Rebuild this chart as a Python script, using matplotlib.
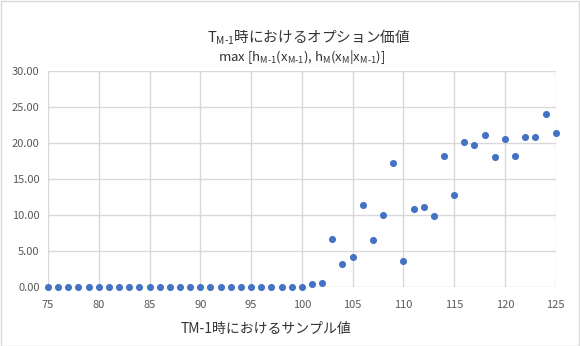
import matplotlib
matplotlib.use("Agg")
import matplotlib.pyplot as plt
from matplotlib.patches import Rectangle

plt.rcParams['font.family'] = ['Noto Sans CJK JP', 'DejaVu Sans']
plt.rcParams['mathtext.fontset'] = 'custom'
plt.rcParams['mathtext.rm'] = 'Noto Sans CJK JP'
plt.rcParams['mathtext.it'] = 'Noto Sans CJK JP'
plt.rcParams['mathtext.bf'] = 'Noto Sans CJK JP'
plt.rcParams['mathtext.sf'] = 'Noto Sans CJK JP'
plt.rcParams['mathtext.default'] = 'regular'

# ---- data ----
sample_values = [75, 76, 77, 78, 79, 80, 81, 82, 83, 84, 85, 86, 87, 88, 89, 90,
                 91, 92, 93, 94, 95, 96, 97, 98, 99, 100, 101, 102, 103, 104, 105,
                 106, 107, 108, 109, 110, 111, 112, 113, 114, 115, 116, 117, 118,
                 119, 120, 121, 122, 123, 124, 125]
option_values = [0.00, 0.00, 0.00, 0.00, 0.00, 0.00, 0.00, 0.00, 0.00, 0.00,
                 0.00, 0.00, 0.00, 0.00, 0.00, 0.00, 0.00, 0.00, 0.00, 0.00,
                 0.00, 0.00, 0.00, 0.00, 0.00, 0.00,
                 0.42, 0.65, 6.74, 3.28, 4.16, 11.40, 6.56, 10.02, 17.22, 3.69,
                 10.90, 11.08, 9.83, 18.19, 12.83, 20.13, 19.76, 21.10, 18.10,
                 20.54, 18.24, 20.91, 20.82, 24.10, 21.47]
x_ticks = [75, 80, 85, 90, 95, 100, 105, 110, 115, 120, 125]
y_ticks = [0, 5, 10, 15, 20, 25, 30]
title_line1 = r"T$_{\text{M-1}}$時におけるオプション価値"
title_line2 = (r"max [h$_{\text{M-1}}$(x$_{\text{M-1}}$), "
               r"h$_{\text{M}}$(x$_{\text{M}}$|x$_{\text{M-1}}$)]")
x_label = "TM-1時におけるサンプル値"

W, H, DPI = 580, 346, 100
fig = plt.figure(figsize=(W / DPI, H / DPI), dpi=DPI)
fig.patch.set_facecolor("white")
fig.patches.append(Rectangle((0.5 / W, 0.5 / H), 1 - 1.5 / W, 1 - 1.5 / H,
                             transform=fig.transFigure, fill=False,
                             edgecolor="#d9d9d9", linewidth=1.0))

ax = fig.add_axes([48 / W, 1 - 287.3 / H, (555.7 - 48) / W, (287.3 - 71) / H])
ax.scatter(sample_values, option_values, s=26, color="#4472C4", zorder=3,
           clip_on=False, linewidths=0)
ax.set_xlim(75, 125)
ax.set_ylim(0, 30)
ax.set_xticks(x_ticks)
ax.set_yticks(y_ticks)
ax.set_yticklabels([f"{v:.2f}" for v in y_ticks])
ax.grid(True, color="#d9d9d9", linewidth=1.0)
ax.set_axisbelow(True)
for s in ax.spines.values():
    s.set_visible(False)
ax.tick_params(length=0, labelsize=8, labelcolor="#595959", pad=6)
ax.tick_params(axis='x', pad=9)

fig.text(266 / W, 1 - 329 / H, x_label, ha="center", va="center",
         fontsize=10, color="#333333")

fig.text(309 / W, 1 - 37 / H, title_line1, ha="center", va="center",
         fontsize=10.5, color="#333333")
fig.text(302 / W, 1 - 57 / H, title_line2, ha="center", va="center",
         fontsize=9.5, color="#333333")

fig.savefig("out.png", dpi=DPI)
